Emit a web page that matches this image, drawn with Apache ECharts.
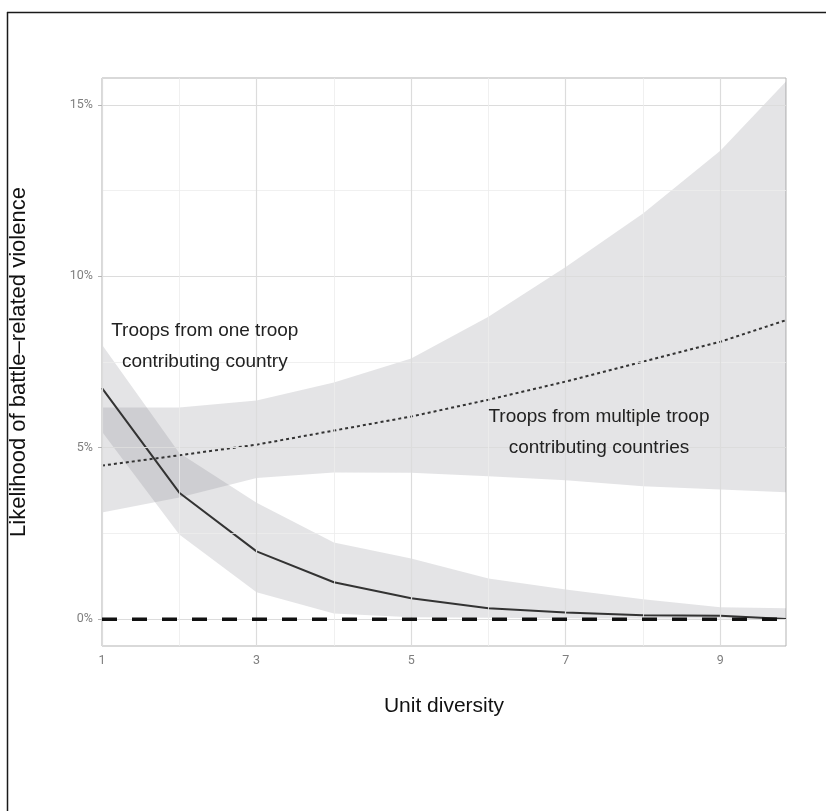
<!DOCTYPE html>
<html>
<head>
<meta charset="utf-8">
<script src="https://cdn.jsdelivr.net/npm/echarts@6/dist/echarts.min.js"></script>
<style>
html,body{margin:0;padding:0;background:#fff;}
#chart{width:826px;height:811px;}
</style>
</head>
<body>
<div id="chart"></div>
<script>
// x values (unit diversity)
const xs = [1, 2, 3, 4, 5, 6, 7, 8, 9, 9.85];
// One TCC: predicted likelihood (%) and CI
const oneMean  = [6.74, 3.69, 1.98, 1.08, 0.61, 0.32, 0.20, 0.12, 0.10, 0.01];
const oneLower = [5.47, 2.47, 0.79, 0.17, 0.06, 0.04, 0.03, 0.02, 0.02, 0.01];
const oneUpper = [8.00, 4.85, 3.40, 2.24, 1.77, 1.19, 0.87, 0.58, 0.35, 0.32];
// Multiple TCCs
const multMean  = [4.48, 4.78, 5.09, 5.50, 5.91, 6.40, 6.93, 7.51, 8.09, 8.72];
const multLower = [3.11, 3.55, 4.12, 4.28, 4.27, 4.17, 4.05, 3.88, 3.78, 3.70];
const multUpper = [6.17, 6.17, 6.38, 6.90, 7.60, 8.82, 10.27, 11.83, 13.66, 15.68];
// ticks
const yTicks = [0, 5, 10, 15];
const yMinor = [2.5, 7.5, 12.5];
const xTicks = [1, 3, 5, 7, 9];
const xMinor = [2, 4, 6, 8];
const labelOne = 'Troops from one troop\ncontributing country';
const labelMult = 'Troops from multiple troop\ncontributing countries';

const pairs = (a) => xs.map((x, i) => [x, a[i]]);

const bandFill = 'rgba(120,120,130,0.20)';
const gridMajor = '#dcdcdc';
const gridMinor = '#ececec';

function bandSeries(lower, upper) {
  return {
    type: 'custom', silent: true, z: 2, clip: true,
    data: [[xs[0], lower[0]]],
    renderItem: function (params, api) {
      const pts = [];
      for (let i = 0; i < xs.length; i++) pts.push(api.coord([xs[i], upper[i]]));
      for (let i = xs.length - 1; i >= 0; i--) pts.push(api.coord([xs[i], lower[i]]));
      return {type: 'polygon', shape: {points: pts}, style: {fill: bandFill, stroke: null}};
    }
  };
}

const chart = echarts.init(document.getElementById('chart'), null, {renderer: 'canvas'});

const gridLines = [];
yTicks.forEach(v => gridLines.push({yAxis: v, lineStyle: {color: gridMajor, width: 1.2, type: 'solid'}}));
yMinor.forEach(v => gridLines.push({yAxis: v, lineStyle: {color: gridMinor, width: 0.8, type: 'solid'}}));
xTicks.forEach(v => gridLines.push({xAxis: v, lineStyle: {color: gridMajor, width: 1.2, type: 'solid'}}));
xMinor.forEach(v => gridLines.push({xAxis: v, lineStyle: {color: gridMinor, width: 0.8, type: 'solid'}}));

chart.setOption({
  animation: false,
  backgroundColor: '#fff',
  grid: {left: 102, top: 78, right: 40, bottom: 165, show: true, borderColor: '#b3b3b3', borderWidth: 1,
         backgroundColor: 'transparent', containLabel: false, outerBoundsMode: 'none'},
  xAxis: {
    type: 'value', min: 1, max: 9.85,
    axisLine: {show: false},
    splitLine: {show: false},
    axisTick: {show: true, customValues: xTicks, length: 4, lineStyle: {color: '#b3b3b3'}},
    axisLabel: {customValues: xTicks, color: '#7f7f7f', fontFamily: 'Roboto', fontSize: 12.5, margin: 8},
    name: 'Unit diversity', nameLocation: 'middle', nameGap: 50,
    nameTextStyle: {fontFamily: 'Liberation Sans', fontSize: 21, color: '#111'}
  },
  yAxis: {
    type: 'value', min: -0.78, max: 15.78,
    axisLine: {show: false},
    splitLine: {show: false},
    axisTick: {show: true, customValues: yTicks, length: 4, lineStyle: {color: '#b3b3b3'}},
    axisLabel: {customValues: yTicks, color: '#7f7f7f', fontFamily: 'Roboto', fontSize: 12.5, margin: 9, formatter: v => v + '%'},
    name: 'Likelihood of battle\u2013related violence', nameLocation: 'middle', nameGap: 72, nameRotate: 90,
    nameTextStyle: {fontFamily: 'Liberation Sans', fontSize: 22, color: '#111'}
  },
  series: [
    {type: 'line', data: [], silent: true, z: 1,
     markLine: {silent: true, symbol: 'none', label: {show: false}, animation: false, data: gridLines}},
    bandSeries(multLower, multUpper),
    bandSeries(oneLower, oneUpper),
    {type: 'line', data: pairs(multMean), symbol: 'none', smooth: false, lineStyle: {color: '#333', width: 2, type: [3, 3]}, z: 4},
    {type: 'line', data: pairs(oneMean), symbol: 'none', lineStyle: {color: '#333', width: 2}, z: 4},
    {type: 'line', data: [[1, 0], [9.85, 0]], symbol: 'none', lineStyle: {color: '#111', width: 3.5, type: [15, 15]}, z: 5},
    {type: 'scatter', symbolSize: 0, z: 6, silent: true,
     data: [
       {value: [2.33, 7.97], label: {formatter: labelOne}},
       {value: [7.43, 5.44], label: {formatter: labelMult}}
     ],
     itemStyle: {opacity: 1},
     label: {show: true, position: 'inside', align: 'center', verticalAlign: 'middle',
             fontFamily: 'Liberation Sans', fontSize: 19, lineHeight: 31, color: '#222', opacity: 1}}
  ],
  graphic: [
    {type: 'line', shape: {x1: 7, y1: 12.5, x2: 826, y2: 12.5}, style: {stroke: '#1a1a1a', lineWidth: 1.5}},
    {type: 'line', shape: {x1: 7.5, y1: 12, x2: 7.5, y2: 811}, style: {stroke: '#1a1a1a', lineWidth: 1.5}}
  ]
});
</script>
</body>
</html>
